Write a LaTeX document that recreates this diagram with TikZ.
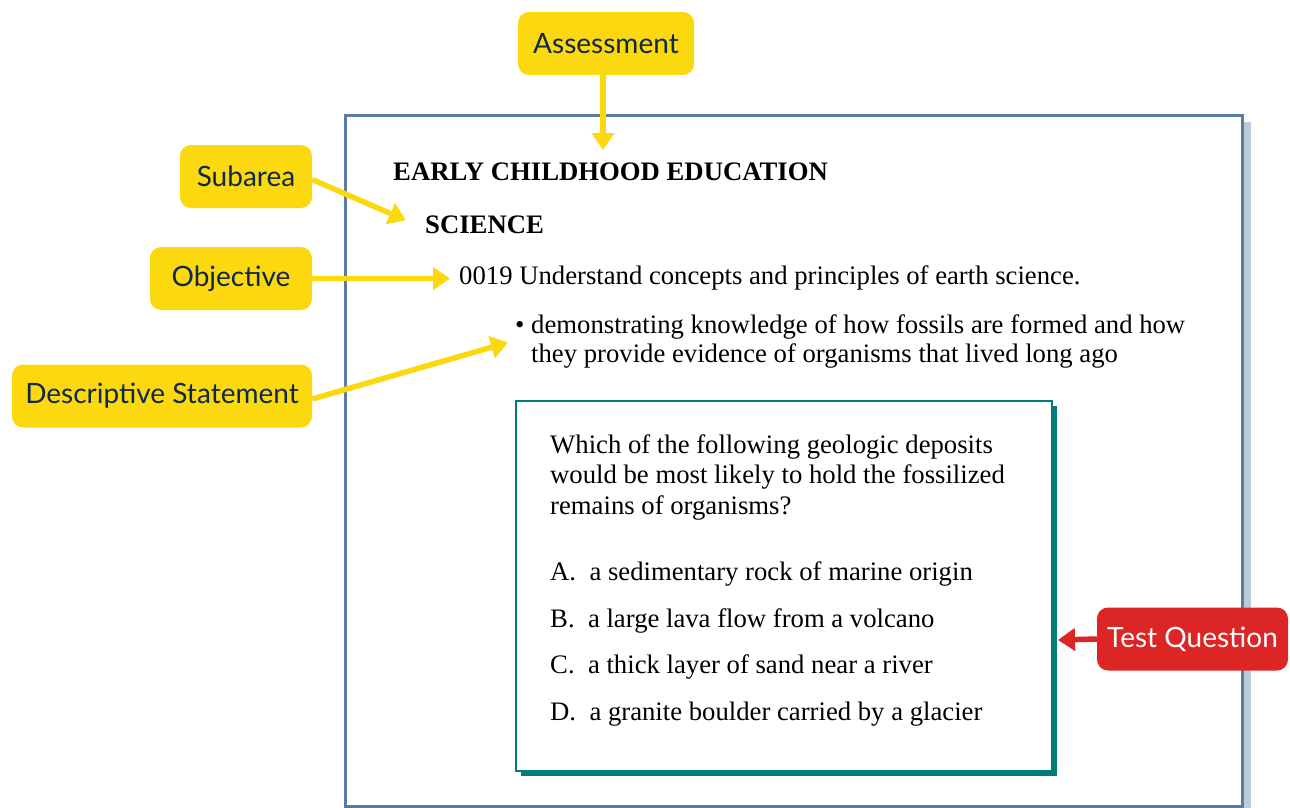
\documentclass[tikz,border=0pt]{standalone}
\usepackage{fontspec}
\setmainfont{Liberation Serif}
\newfontfamily\labelfont{Lato}
\usetikzlibrary{arrows.meta,positioning}

\definecolor{callyellow}{HTML}{FCD80F}
\definecolor{callred}{HTML}{DC2626}
\definecolor{labelnavy}{HTML}{10294A}
\definecolor{pageblue}{HTML}{5A7BA2}
\definecolor{pageshade}{HTML}{BACBDD}
\definecolor{qteal}{HTML}{007C7A}

\begin{document}
\begin{tikzpicture}[x=1pt, y=-1pt,
    callout/.style={rounded corners=11pt, inner sep=0pt, minimum height=63pt,
      font=\labelfont\fontsize{28}{32}\selectfont},
    yellowbox/.style={callout, fill=callyellow, text=labelnavy},
    redbox/.style={callout, fill=callred, text=white},
    pointer/.style={line width=5.5pt, -{Triangle[length=17pt,width=22pt]}},
    body/.style={anchor=base west, inner sep=0pt, font=\fontsize{26.7}{30.5}\selectfont},
    head/.style={body, font=\bfseries\fontsize{26.7}{30.5}\selectfont}]
  \useasboundingbox (0,0) rectangle (1290,808);

  % page with shadow
  \fill[pageshade] (350,122) rectangle (1251,808);
  \draw[pageblue, line width=3pt, fill=white] (345,115) rectangle (1242,806);

  % question box with shadow
  \fill[qteal] (521,406) rectangle (1057,776);
  \draw[qteal, line width=2pt, fill=white] (516,401) rectangle (1052,771);

  \node[head] (title) at (393,180) {EARLY CHILDHOOD EDUCATION};
  \node[head] (science) at (425,233) {SCIENCE};
  \node[body] (obj) at (459,284) {0019 Understand concepts and principles of earth science.};
  \node[body] (bullet) at (515,333) {\textbullet{} demonstrating knowledge of how fossils are formed and how};
  \node[body] (bullet2) at (531,362) {they provide evidence of organisms that lived long ago};

  \node[body, align=left, anchor=north west]
    (question) at (550,434) {Which of the following geologic deposits\\would be most likely to hold the fossilized\\remains of organisms?};
  \foreach \letter/\answer/\ypos in {A/a sedimentary rock of marine origin/580,
      B/a large lava flow from a volcano/627,
      C/a thick layer of sand near a river/673,
      D/a granite boulder carried by a glacier/720}
    \node[body] (opt\letter) at (550,\ypos) {\letter.\ \ \answer};

  \coordinate (qedge) at (1058,640);
  \coordinate (titletop) at (603,150);

  % callouts
  \node[yellowbox, minimum width=176pt] (assess) at (606,43.5) {Assessment};
  \node[yellowbox, minimum width=132pt] (subarea) at (246,176.5) {Subarea};
  \node[yellowbox, minimum width=162pt] (objective) at (231,278.5) {Objective};
  \node[yellowbox, minimum width=300pt] (descr) at (162,396) {Descriptive Statement};
  \node[redbox, minimum width=191pt] (testq) at (1192.5,639) {Test Question};

  \draw[pointer, callyellow] (assess.south -| titletop) -- (titletop);
  \draw[pointer, callyellow] (subarea.east) ++(0,3) -- ([xshift=-19pt,yshift=4pt]science.west);
  \draw[pointer, callyellow] (objective.east) -- ([xshift=-9pt]obj.west |- objective.east);
  \draw[pointer, callyellow] ([yshift=-3pt]descr.east) -- ([xshift=-7pt,yshift=-16pt]bullet.west);
  \draw[pointer, callred] (testq.west) -- (qedge);
\end{tikzpicture}
\end{document}
